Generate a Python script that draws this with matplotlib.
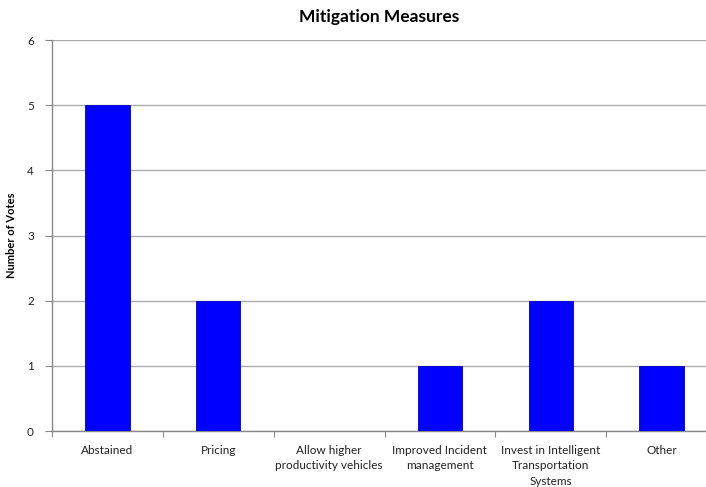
import matplotlib
matplotlib.use("Agg")
import matplotlib.pyplot as plt
import numpy as np

categories = ["Abstained", "Pricing", "Allow higher\nproductivity vehicles",
              "Improved Incident\nmanagement", "Invest in Intelligent\nTransportation\nSystems", "Other"]
votes = [5, 2, 0, 1, 2, 1]
yticks = [0, 1, 2, 3, 4, 5, 6]

plt.rcParams['font.family'] = ['Lato', 'DejaVu Sans']

W, H = 706, 487
fig = plt.figure(figsize=(W/100, H/100), dpi=100)
left, right, top, bottom = 52, 717, 40, 431
ax = fig.add_axes([left/W, (H-bottom)/H, (right-left)/W, (bottom-top)/H])

x = np.arange(len(categories))
ax.bar(x, votes, width=0.4, color='#0000FF', edgecolor='#0000C0', linewidth=0.6, zorder=3)

ax.set_xlim(-0.5, len(categories)-0.5)
ax.set_ylim(0, 6)
ax.set_yticks(yticks)
ax.set_yticklabels([str(v) for v in yticks], fontsize=8.5, color='#222222')
ax.yaxis.grid(True, color='#aaaaaa', linewidth=1.0, zorder=0)
ax.set_axisbelow(True)

ax.set_xticks(np.arange(-0.5, len(categories), 1.0))
ax.set_xticklabels([])
ax.set_xticks(x, minor=True)
ax.set_xticklabels(categories, minor=True, fontsize=8.5, color='#222222', linespacing=1.5)
ax.tick_params(axis='x', which='minor', length=0, pad=10)
ax.tick_params(axis='x', which='major', length=4, color='#888888')
ax.tick_params(axis='y', length=5, color='#888888', pad=8)

for s in ['top', 'right']:
    ax.spines[s].set_visible(False)
for s in ['left', 'bottom']:
    ax.spines[s].set_color('#888888')
    ax.spines[s].set_linewidth(1.0)

ax.set_ylabel("Number of Votes", fontsize=8, fontweight='bold')
ax.yaxis.set_label_coords((17 - left) / (right - left), 0.5)
fig.text(379/W, 1 - 17/H, "Mitigation Measures", ha='center', va='center',
         fontsize=12.5, fontweight='bold')

fig.savefig("out.png", dpi=100)
